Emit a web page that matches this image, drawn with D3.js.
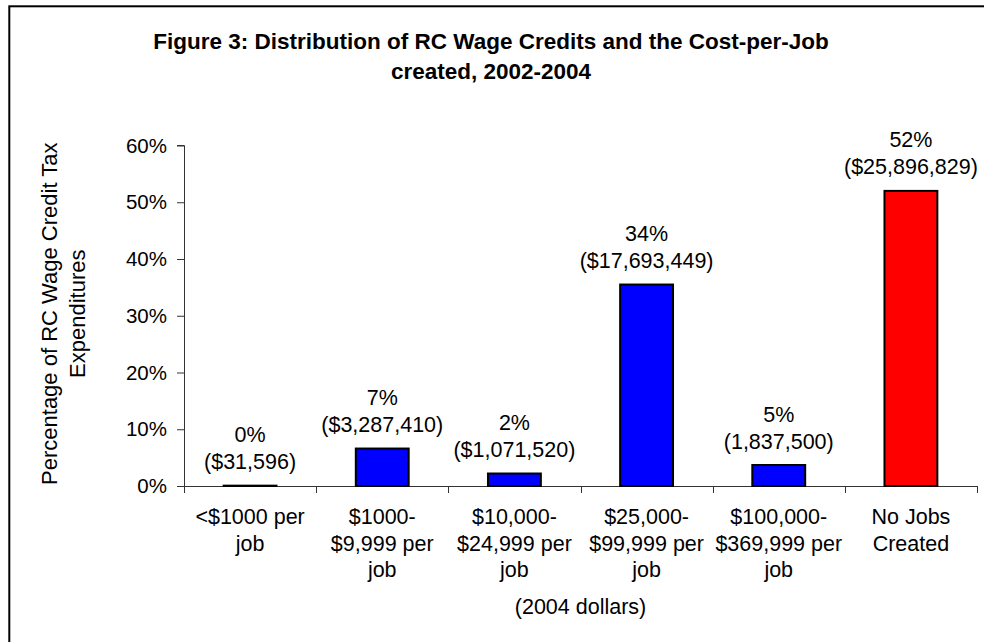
<!DOCTYPE html>
<html>
<head>
<meta charset="utf-8">
<script src="https://cdn.jsdelivr.net/npm/d3@7"></script>
<style>
  html, body { margin: 0; padding: 0; background: #fff; }
  svg { display: block; font-family: "Liberation Sans", Arial, sans-serif; }
</style>
</head>
<body>
<svg id="chart" width="984" height="642"></svg>
<script>
// ---- data ----
const categories = [
  ["<$1000 per", "job"],
  ["$1000-", "$9,999 per", "job"],
  ["$10,000-", "$24,999 per", "job"],
  ["$25,000-", "$99,999 per", "job"],
  ["$100,000-", "$369,999 per", "job"],
  ["No Jobs", "Created"]
];
const shares = [0.06, 6.6, 2.2, 35.5, 3.7, 52.0];
const pctLabels = ["0%", "7%", "2%", "34%", "5%", "52%"];
const amountLabels = ["($31,596)", "($3,287,410)", "($1,071,520)", "($17,693,449)", "(1,837,500)", "($25,896,829)"];
const yTicks = [0, 10, 20, 30, 40, 50, 60];
const titleLines = ["Figure 3: Distribution of RC Wage Credits and the Cost-per-Job", "created, 2002-2004"];
const yTitleLines = ["Percentage of RC Wage Credit Tax", "Expenditures"];
const xTitle = "(2004 dollars)";

// ---- layout ----
const svg = d3.select("#chart");
const pL = 184, pR = 977, pT = 145.5, pB = 486;
const fs = 21.5;

svg.append("rect")
  .attr("x", 9.3).attr("y", 6.3).attr("width", 1000).attr("height", 700)
  .attr("fill", "#fff").attr("stroke", "#000").attr("stroke-width", 2);

const x = d3.scaleBand().domain(d3.range(categories.length)).range([pL, pR]).padding(0);
const y = d3.scaleLinear().domain([0, 60]).range([pB, pT]);

// title
svg.append("g").selectAll("text").data(titleLines).join("text")
  .attr("x", 491).attr("y", (d, i) => 48.5 + i * 30.5)
  .attr("text-anchor", "middle").attr("font-weight", "bold").attr("font-size", 22.5)
  .text(d => d);

// y axis
const yAxis = d3.axisLeft(y).tickValues(yTicks).tickSize(7).tickPadding(10).tickFormat(d => d + "%");
const gy = svg.append("g").attr("transform", `translate(${pL},0)`).call(yAxis);
gy.select(".domain").attr("stroke", "#333").attr("d", `M-7,${y(60)}H0.5V${pB}`);
gy.selectAll(".tick line").attr("stroke", "#333");
gy.selectAll(".tick text").attr("font-size", 20.5).attr("fill", "#000")
  .attr("font-family", "'Liberation Sans', Arial, sans-serif");

// x axis
const gx = svg.append("g").attr("transform", `translate(0,${pB})`);
gx.append("line").attr("x1", pL).attr("x2", pR).attr("y1", 0.5).attr("y2", 0.5).attr("stroke", "#333");
const boundaries = d3.range(categories.length + 1).map(i => i < categories.length ? x(i) : x(categories.length - 1) + x.bandwidth());
gx.selectAll("line.tk").data(boundaries).join("line").attr("class", "tk")
  .attr("x1", d => Math.round(d) + 0.5).attr("x2", d => Math.round(d) + 0.5)
  .attr("y1", 0).attr("y2", 7).attr("stroke", "#333");

// category labels
const catG = svg.append("g");
categories.forEach((lines, i) => {
  catG.append("text")
    .attr("x", x(i) + x.bandwidth() / 2).attr("y", 524)
    .attr("text-anchor", "middle").attr("font-size", fs)
    .selectAll("tspan").data(lines).join("tspan")
    .attr("x", x(i) + x.bandwidth() / 2).attr("dy", (d, j) => j === 0 ? 0 : 26.7)
    .text(d => d);
});

// x title
svg.append("text").attr("x", (pL + pR) / 2).attr("y", 614)
  .attr("text-anchor", "middle").attr("font-size", fs).text(xTitle);

// y title
svg.append("g").attr("transform", `translate(0,${(pT + pB) / 2 - 2}) rotate(-90)`)
  .selectAll("text").data(yTitleLines).join("text")
  .attr("x", 0).attr("y", (d, i) => 57 + i * 28)
  .attr("text-anchor", "middle").attr("font-size", 22).text(d => d);

// bars
const bw = x.bandwidth() * 0.4;
svg.append("g").selectAll("rect").data(shares).join("rect")
  .attr("x", (d, i) => x(i) + (x.bandwidth() - bw) / 2)
  .attr("y", d => y(d))
  .attr("width", bw)
  .attr("height", d => pB - y(d))
  .attr("fill", (d, i) => i === categories.length - 1 ? "#ff0000" : "#0000ff")
  .attr("stroke", "#000").attr("stroke-width", 2);

// bar labels
const lblG = svg.append("g");
shares.forEach((d, i) => {
  const cx = x(i) + x.bandwidth() / 2;
  lblG.append("text").attr("x", cx).attr("y", y(d) - 43.5)
    .attr("text-anchor", "middle").attr("font-size", fs).text(pctLabels[i]);
  lblG.append("text").attr("x", cx).attr("y", y(d) - 16.5)
    .attr("text-anchor", "middle").attr("font-size", fs).text(amountLabels[i]);
});
</script>
</body>
</html>
